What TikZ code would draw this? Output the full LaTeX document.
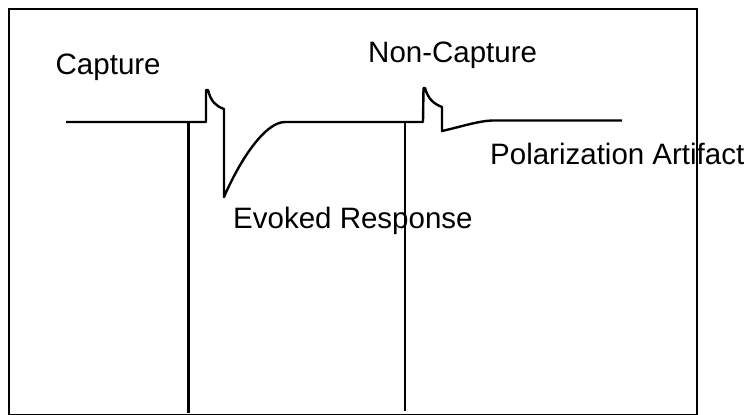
\documentclass[tikz,border=0pt]{standalone}
\usepackage{fontspec}
\setmainfont{Liberation Sans}
\begin{document}
\begin{tikzpicture}[x=1pt,y=-1pt,
  lbl/.style={inner sep=0pt,anchor=base west,font=\fontsize{29.5}{34}\selectfont},
  trace/.style={line width=2.4pt,line join=round},
  frame/.style={line width=2pt}]
\useasboundingbox (0,0) rectangle (748,415);
% labels
\node[lbl] (cap) at (55.5,74.3) {Capture};
\node[lbl] (noncap) at (368,62.3) {Non-Capture};
\node[lbl] (evoked) at (233,228.3) {Evoked Response};
\node[lbl] (polar) at (490,164) {Polarization Artifact};
% frame
\draw[frame] (9,9) rectangle (697,414.5);
% capture trace
\coordinate (s1) at (188.5,122);
\coordinate (s1b) at (188.5,413);
\draw[trace] (66,122) -- (206,122) -- (206,90) -- (208,90)
  .. controls (211,102) and (216,106) .. (224,109) -- (224,197)
  .. controls (240,160) and (265,122) .. (285,122) -- (405,122);
\draw[trace] (s1) -- (s1b);
% non-capture trace
\coordinate (s2) at (405,122);
\coordinate (s2b) at (405,411);
\draw[trace] (405,122) -- (423,122) -- (423.5,88) -- (425,88)
  .. controls (428,99) and (434,104) .. (442,107) -- (442,131)
  .. controls (460,127) and (478,121) .. (492,120.5) -- (622,120.5);
\draw[trace] (s2) -- (s2b);
\end{tikzpicture}
\end{document}
